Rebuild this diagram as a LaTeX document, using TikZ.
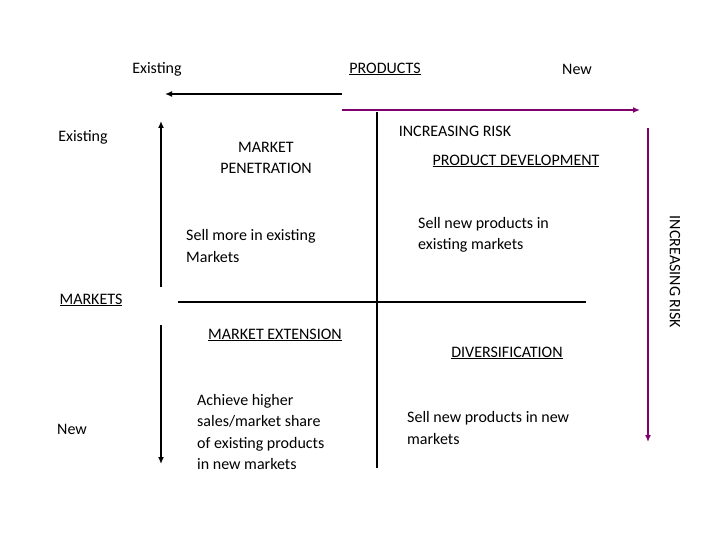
\documentclass[tikz,border=0pt]{standalone}
\usepackage{fontspec}
\setmainfont{Carlito}
\usetikzlibrary{arrows.meta}
\definecolor{rpurple}{RGB}{128,0,110}
\tikzset{
 lbl/.style={font=\fontsize{16}{21.5}\selectfont, inner sep=0pt},
 txt/.style={lbl, align=left, anchor=west},
 arr/.style={line width=2pt, -{Latex[length=7pt,width=6pt]}},
 parr/.style={arr, draw=rpurple},
 axis/.style={line width=1.3pt}
}
\begin{document}
\begin{tikzpicture}[x=1pt,y=-1pt]
\useasboundingbox (0,0) rectangle (720,540);
\node[lbl] (pe) at (157,69) {Existing};
\node[lbl] (pr) at (385,69) {\underline{PRODUCTS}};
\node[lbl] (pn) at (577,69) {New};
\coordinate (a1) at (342,94); \coordinate (a2) at (165,94);
\draw[arr] (a1) -- (a2);
\coordinate (b1) at (342,110); \coordinate (b2) at (640,110);
\draw[parr] (b1) -- (b2);
\node[lbl] (me) at (83,137) {Existing};
\coordinate (c1) at (161,287); \coordinate (c2) at (161,121);
\draw[arr] (c1) -- (c2);
\coordinate (d1) at (161,325); \coordinate (d2) at (161,464);
\draw[arr] (d1) -- (d2);
\node[lbl, align=center] (mp) at (266,158) {MARKET\\PENETRATION};
\node[lbl] (ir) at (455,131) {INCREASING RISK};
\node[lbl] (pd) at (516,161) {\underline{PRODUCT DEVELOPMENT}};
\node[txt] (s1) at (186,246) {Sell more in existing\\Markets};
\node[txt] (s2) at (418,235) {Sell new products in\\existing markets};
\node[lbl, rotate=-90] (ir2) at (675,272) {INCREASING RISK};
\coordinate (e1) at (648,128); \coordinate (e2) at (648,442);
\draw[parr] (e1) -- (e2);
\node[lbl] (mk) at (91,300) {\underline{MARKETS}};
\coordinate (h1) at (178,302); \coordinate (h2) at (586,302);
\draw[axis] (h1) -- (h2);
\coordinate (v1) at (377,112); \coordinate (v2) at (377,468);
\draw[axis] (v1) -- (v2);
\node[lbl] (mx) at (275,335) {\underline{MARKET EXTENSION}};
\node[lbl] (dv) at (507,353) {\underline{DIVERSIFICATION}};
\node[lbl] (mn) at (72,429) {New};
\node[txt] (s3) at (197,432) {Achieve higher\\sales/market share\\of existing products\\in new markets};
\node[txt] (s4) at (407,428) {Sell new products in new\\markets};
\end{tikzpicture}
\end{document}
